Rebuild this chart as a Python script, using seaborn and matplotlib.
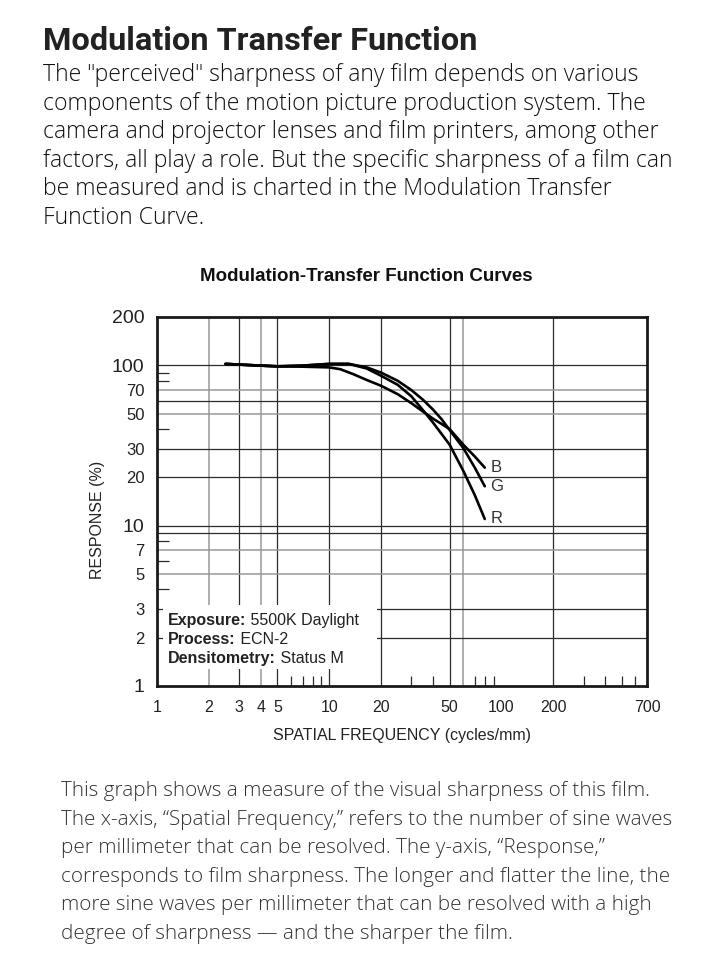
import numpy as np
import pandas as pd
import matplotlib
matplotlib.use("Agg")
import matplotlib.pyplot as plt
from matplotlib import font_manager
from matplotlib.patches import Rectangle
import seaborn as sns

# values (cycles/mm, response %)
freq_b = [2.5, 3, 4, 5, 7, 10, 11.6, 13.8, 16.5, 20, 25, 30, 35, 40, 45, 50, 60, 70, 80]
resp_b = [102, 101, 99.5, 98.5, 98, 97, 94.5, 88, 81, 74.5, 66, 58, 51.5, 46.5, 43, 40, 32, 27, 23]
freq_g = [2.5, 3, 4, 5, 7, 10, 13, 16.5, 20, 25, 30, 35, 40, 45, 50, 60, 70, 80]
resp_g = [102, 101, 99.5, 98.5, 99.5, 102, 102, 97, 90, 80, 70, 61, 53, 46, 39.5, 30.5, 23, 17.6]
freq_r = [2.5, 3, 4, 5, 7, 10, 13, 16.5, 20, 25, 30, 35, 40, 50, 60, 70, 80]
resp_r = [102, 101, 99.5, 98.5, 99.5, 102, 102, 95.5, 86, 75.5, 64, 52.5, 44, 32, 22, 15.5, 11]

x_tick_vals = [1, 2, 3, 4, 5, 10, 20, 50, 100, 200, 700]
y_tick_vals = [1, 2, 3, 5, 7, 10, 20, 30, 50, 70, 100, 200]
x_minor = [6, 7, 8, 9, 30, 40, 70, 80, 90, 100, 300, 400, 500, 600]
y_minor = [4, 6, 8, 40, 80, 90]
x_grid_dark = [3, 5, 10, 20, 50, 200]
x_grid_gray = [2, 4, 60]
y_grid_dark = [2, 3, 9, 10, 20, 30, 60, 100]
y_grid_gray = [5, 7, 50, 70]

intro = [
    'The "perceived" sharpness of any film depends on various',
    'components of the motion picture production system. The',
    'camera and projector lenses and film printers, among other',
    'factors, all play a role. But the specific sharpness of a film can',
    'be measured and is charted in the Modulation Transfer',
    'Function Curve.',
]
outro = [
    'This graph shows a measure of the visual sharpness of this film.',
    'The x-axis, \u201cSpatial Frequency,\u201d refers to the number of sine waves',
    'per millimeter that can be resolved. The y-axis, \u201cResponse,\u201d',
    'corresponds to film sharpness. The longer and flatter the line, the',
    'more sine waves per millimeter that can be resolved with a high',
    'degree of sharpness \u2014 and the sharper the film.',
]
notes = [("Exposure:", " 5500K Daylight"),
         ("Process:", " ECN-2"),
         ("Densitometry:", " Status M")]

df = pd.concat([
    pd.DataFrame({"freq": freq_b, "resp": resp_b, "ch": "B"}),
    pd.DataFrame({"freq": freq_g, "resp": resp_g, "ch": "G"}),
    pd.DataFrame({"freq": freq_r, "resp": resp_r, "ch": "R"}),
])

sns.set_style("white")
plt.rcParams["font.family"] = ["Liberation Sans", "DejaVu Sans"]

# a condensed face for the chart title, if one is installed
have_cond = any(f.name == "DejaVu Sans" and f.stretch == "condensed" and f.weight == "bold"
                for f in font_manager.fontManager.ttflist)

W, H = 704, 977
fig = plt.figure(figsize=(W / 100, H / 100), dpi=100)
ax = fig.add_axes([157 / W, 1 - 686 / H, 490 / W, 369 / H])

sns.lineplot(data=df, x="freq", y="resp", hue="ch", units="ch", estimator=None,
             palette={"B": "black", "G": "black", "R": "black"}, legend=False,
             sort=False, lw=1.9, ax=ax, zorder=4)

ax.set_xscale("log")
ax.set_yscale("log")
ax.set_xlim(1, 700)
ax.set_ylim(1, 200)

for v in x_grid_dark:
    ax.axvline(v, color="#2b2b2b", lw=0.9, zorder=1)
for v in x_grid_gray:
    ax.axvline(v, color="#999999", lw=1.1, zorder=1)
for v in y_grid_dark:
    ax.axhline(v, color="#2b2b2b", lw=0.9, zorder=1)
for v in y_grid_gray:
    ax.axhline(v, color="#999999", lw=1.1, zorder=1)

# white panel behind the exposure notes
ax.add_patch(Rectangle((0.012, 0.046), 0.437, 0.174, transform=ax.transAxes,
                       facecolor="white", edgecolor="none", zorder=2))

ax.set_xticks(x_tick_vals)
ax.set_xticklabels([str(v) for v in x_tick_vals])
ax.set_xticks(x_minor, minor=True)
ax.set_yticks(y_tick_vals)
ax.set_yticklabels([str(v) for v in y_tick_vals])
ax.set_yticks(y_minor, minor=True)
ax.yaxis.set_minor_formatter(matplotlib.ticker.NullFormatter())
ax.xaxis.set_minor_formatter(matplotlib.ticker.NullFormatter())
ax.tick_params(axis="both", which="major", length=0, colors="#222222")
ax.tick_params(axis="x", which="major", labelsize=11.5, pad=10)
ax.tick_params(axis="y", which="major", labelsize=12, pad=9)
ax.tick_params(axis="x", which="minor", direction="in", length=7, width=0.9,
               color="#2b2b2b", bottom=True)
ax.tick_params(axis="y", which="minor", direction="in", length=8.5, width=0.9,
               color="#2b2b2b", left=True)
for lab in ax.get_yticklabels():
    if lab.get_text() in ("1", "10", "100", "200"):
        lab.set_fontsize(14)

for s in ax.spines.values():
    s.set_linewidth(2.0)
    s.set_color("#1a1a1a")
    s.set_zorder(5)

ax.set_xlabel("SPATIAL FREQUENCY (cycles/mm)", fontsize=11.5, color="#222222")
ax.set_ylabel("RESPONSE (%)", fontsize=11.5, color="#222222")
ax.xaxis.set_label_coords(0.5, -0.1355)
ax.xaxis.label.set_va("center")
ax.yaxis.set_label_coords(-0.1224, 0.45)
ax.yaxis.label.set_va("center")

# channel letters at the curve ends
for f, r, name in [(freq_b, resp_b, "B"), (freq_g, resp_g, "G"), (freq_r, resp_r, "R")]:
    ax.annotate(name, xy=(f[-1], r[-1]), xytext=(4, 0), textcoords="offset points",
                ha="left", va="center", fontsize=12, color="#333333", zorder=6)

for i, (b, n) in enumerate(notes):
    t = ax.text(0.0224, 0.165 - i * 0.0515, b, transform=ax.transAxes, fontsize=11.5,
                fontweight="bold", color="#222222", va="baseline", zorder=6)
    ax.annotate(n, xy=(1, 0), xycoords=t, va="bottom", ha="left", fontsize=11.5,
                color="#222222", zorder=6)

if have_cond:
    fig.text(366 / W, 1 - 281 / H, "Modulation-Transfer Function Curves",
             ha="center", va="baseline", fontsize=15, fontweight="bold",
             family="DejaVu Sans", fontstretch="condensed", color="#111111")
else:
    fig.text(366 / W, 1 - 281 / H, "Modulation-Transfer Function Curves",
             ha="center", va="baseline", fontsize=13.5, fontweight="bold",
             family=["Liberation Sans", "DejaVu Sans"], color="#111111")

fig.text(43 / W, 1 - 50 / H, "Modulation Transfer Function", ha="left", va="baseline",
         fontsize=23.4, fontweight="bold", family=["Roboto", "DejaVu Sans"], color="#222222")
for i, line in enumerate(intro):
    fig.text(43 / W, 1 - (81 + i * 28.6) / H, line, ha="left", va="baseline",
             fontsize=16.6, fontweight="light", family=["Open Sans", "DejaVu Sans"],
             color="#111111")
for i, line in enumerate(outro):
    fig.text(61 / W, 1 - (796 + i * 28.6) / H, line, ha="left", va="baseline",
             fontsize=14.9, fontweight="light", family=["Open Sans", "DejaVu Sans"],
             color="#333333")

fig.savefig("out.png", dpi=100, facecolor="white")
